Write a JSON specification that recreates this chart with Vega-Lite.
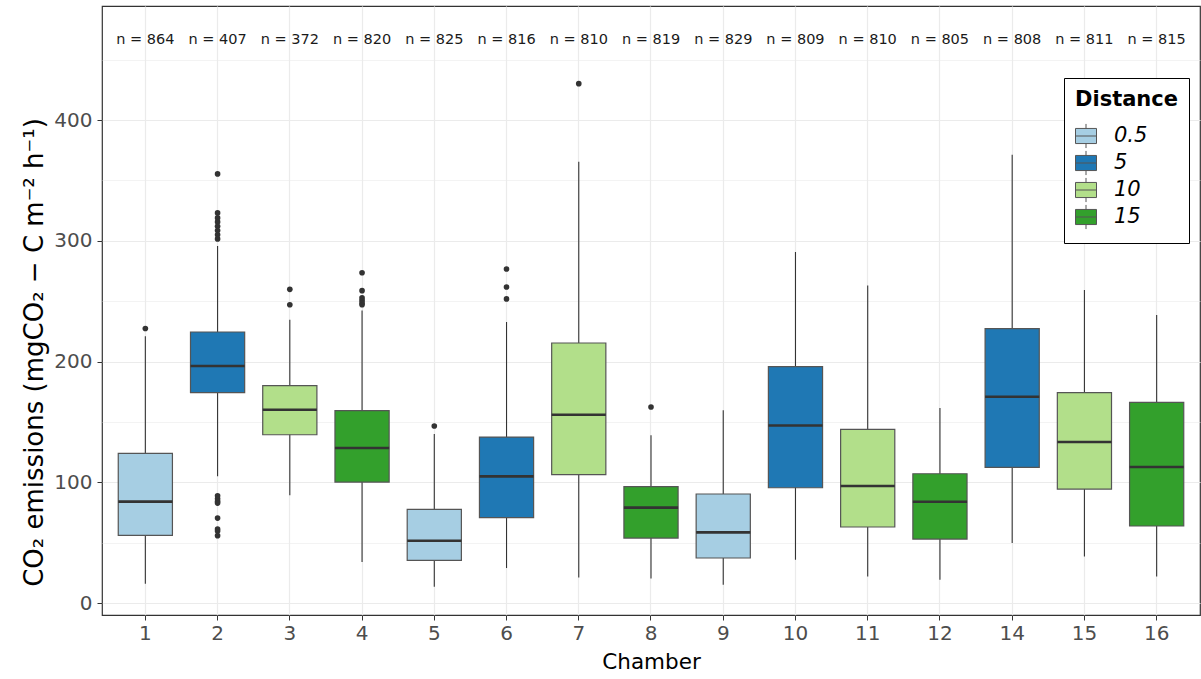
{
  "$schema": "https://vega.github.io/schema/vega-lite/v6.json",
  "width": 1098,
  "height": 609,
  "autosize": {"type": "none"},
  "padding": {"left": 102, "top": 6, "right": 1, "bottom": 64},
  "background": "white",
  "config": {
    "font": "DejaVu Sans",
    "view": {"stroke": "#333333", "strokeWidth": 1.2}
  },
  "datasets": {
    "boxes": [
      {"Chamber": "1", "Distance": "0.5", "lower": 16, "q1": 56, "median": 84, "q3": 124, "upper": 221, "label": "n = 864"},
      {"Chamber": "2", "Distance": "5", "lower": 105, "q1": 174.2, "median": 196.3, "q3": 224.5, "upper": 295.8, "label": "n = 407"},
      {"Chamber": "3", "Distance": "10", "lower": 89.2, "q1": 139.4, "median": 160.1, "q3": 180, "upper": 234.7, "label": "n = 372"},
      {"Chamber": "4", "Distance": "15", "lower": 34, "q1": 100.2, "median": 128.4, "q3": 159.3, "upper": 242.4, "label": "n = 820"},
      {"Chamber": "5", "Distance": "0.5", "lower": 13.5, "q1": 35.3, "median": 51.6, "q3": 77.6, "upper": 140, "label": "n = 825"},
      {"Chamber": "6", "Distance": "5", "lower": 29, "q1": 70.7, "median": 104.9, "q3": 137.5, "upper": 232.8, "label": "n = 816"},
      {"Chamber": "7", "Distance": "10", "lower": 21.2, "q1": 106.3, "median": 156, "q3": 215.4, "upper": 365.4, "label": "n = 810"},
      {"Chamber": "8", "Distance": "15", "lower": 20.4, "q1": 53.8, "median": 79, "q3": 96.4, "upper": 138.9, "label": "n = 819"},
      {"Chamber": "9", "Distance": "0.5", "lower": 15.2, "q1": 37.3, "median": 58.5, "q3": 90.3, "upper": 159.6, "label": "n = 829"},
      {"Chamber": "10", "Distance": "5", "lower": 35.9, "q1": 95.5, "median": 147.1, "q3": 195.8, "upper": 290.8, "label": "n = 809"},
      {"Chamber": "11", "Distance": "10", "lower": 22, "q1": 63, "median": 96.9, "q3": 143.8, "upper": 263.1, "label": "n = 810"},
      {"Chamber": "12", "Distance": "15", "lower": 19.3, "q1": 53, "median": 83.9, "q3": 107.1, "upper": 161.6, "label": "n = 805"},
      {"Chamber": "14", "Distance": "5", "lower": 49.7, "q1": 112.4, "median": 170.9, "q3": 227.3, "upper": 371.4, "label": "n = 808"},
      {"Chamber": "15", "Distance": "10", "lower": 38.6, "q1": 94.4, "median": 133.4, "q3": 174.2, "upper": 259.3, "label": "n = 811"},
      {"Chamber": "16", "Distance": "15", "lower": 22, "q1": 63.8, "median": 112.7, "q3": 166.2, "upper": 238.6, "label": "n = 815"}
    ],
    "outliers": [
      {"Chamber": "1", "value": 227.4},
      {"Chamber": "2", "value": 355.4},
      {"Chamber": "2", "value": 323.1},
      {"Chamber": "2", "value": 319},
      {"Chamber": "2", "value": 315.7},
      {"Chamber": "2", "value": 312},
      {"Chamber": "2", "value": 308.5},
      {"Chamber": "2", "value": 305},
      {"Chamber": "2", "value": 301.6},
      {"Chamber": "2", "value": 88.9},
      {"Chamber": "2", "value": 86.4},
      {"Chamber": "2", "value": 84.2},
      {"Chamber": "2", "value": 82.8},
      {"Chamber": "2", "value": 70.4},
      {"Chamber": "2", "value": 61.3},
      {"Chamber": "2", "value": 59.6},
      {"Chamber": "2", "value": 55.8},
      {"Chamber": "3", "value": 259.8},
      {"Chamber": "3", "value": 247.1},
      {"Chamber": "4", "value": 273.6},
      {"Chamber": "4", "value": 258.7},
      {"Chamber": "4", "value": 252.7},
      {"Chamber": "4", "value": 250.5},
      {"Chamber": "4", "value": 248.5},
      {"Chamber": "4", "value": 247.1},
      {"Chamber": "5", "value": 146.6},
      {"Chamber": "6", "value": 276.7},
      {"Chamber": "6", "value": 261.8},
      {"Chamber": "6", "value": 251.9},
      {"Chamber": "7", "value": 430.2},
      {"Chamber": "8", "value": 162.4}
    ]
  },
  "encoding": {
    "x": {
      "field": "Chamber",
      "type": "ordinal",
      "sort": ["1", "2", "3", "4", "5", "6", "7", "8", "9", "10", "11", "12", "14", "15", "16"],
      "scale": {"type": "band", "paddingInner": 0, "paddingOuter": 0.1},
      "axis": {
        "title": "Chamber",
        "labelAngle": 0,
        "labelFontSize": 20,
        "labelColor": "#4D4D4D",
        "labelPadding": 3,
        "tickColor": "#333333",
        "tickSize": 5,
        "domain": false,
        "grid": true,
        "gridColor": "#EBEBEB",
        "gridWidth": 1.2,
        "bandPosition": 0.5,
        "titleFontSize": 21.5,
        "titleFontWeight": "normal",
        "titleColor": "#000000",
        "titlePadding": 8
      }
    }
  },
  "layer": [
    {
      "data": {"name": "boxes"},
      "mark": {"type": "rule", "color": "#333333", "strokeWidth": 1.1},
      "encoding": {
        "y": {
          "field": "lower",
          "type": "quantitative",
          "scale": {"domain": [-9.9, 494.5], "nice": false, "zero": false},
          "axis": {
            "title": "CO₂ emissions (mgCO₂ − C m⁻² h⁻¹)",
            "values": [0, 50, 100, 150, 200, 250, 300, 350, 400, 450],
            "labelExpr": "datum.value % 100 == 0 ? datum.label : ''",
            "labelFontSize": 20,
            "labelColor": "#4D4D4D",
            "labelPadding": 5,
            "tickColor": "#333333",
            "tickSize": 5,
            "tickOpacity": {"condition": {"test": "datum.value % 100 != 0", "value": 0}, "value": 1},
            "domain": false,
            "grid": true,
            "gridColor": "#EBEBEB",
            "gridWidth": {"condition": {"test": "datum.value % 100 != 0", "value": 0.6}, "value": 1.2},
            "titleFontSize": 26,
            "titleFontWeight": "normal",
            "titleColor": "#000000",
            "titlePadding": 6,
            "titleY": 346,
            "titleAlign": "center"
          }
        },
        "y2": {"field": "upper"}
      }
    },
    {
      "data": {"name": "boxes"},
      "mark": {"type": "bar", "width": {"band": 0.75}, "stroke": "#555555", "strokeWidth": 1.2},
      "encoding": {
        "y": {"field": "q1", "type": "quantitative"},
        "y2": {"field": "q3"},
        "fill": {
          "field": "Distance",
          "type": "nominal",
          "scale": {"domain": ["0.5", "5", "10", "15"], "range": ["#A6CEE3", "#1F78B4", "#B2DF8A", "#33A02C"]},
          "legend": {
            "title": "Distance",
            "orient": "none",
            "legendX": 962,
            "legendY": 72,
            "titleFontSize": 21,
            "titleFontWeight": "bold",
            "titleColor": "#000000",
            "titlePadding": 15,
            "labelFontSize": 21,
            "labelFontStyle": "italic",
            "labelColor": "#000000",
            "labelOffset": 17,
            "symbolType": "M-1,-0.72H1V0.72H-1Z M-1,0H1 M0,-1.15V-0.72 M0,0.72V1.15",
            "symbolSize": 441,
            "symbolStrokeColor": "#555555",
            "symbolStrokeWidth": 1,
            "rowPadding": -3,
            "strokeColor": "#000000",
            "fillColor": "#FFFFFF",
            "padding": 11,
            "cornerRadius": 0
          }
        }
      }
    },
    {
      "data": {"name": "boxes"},
      "mark": {"type": "bar", "width": {"band": 0.75}, "fill": null, "stroke": "#333333", "strokeWidth": 2.6},
      "encoding": {
        "y": {"field": "median", "type": "quantitative"},
        "y2": {"field": "median"}
      }
    },
    {
      "data": {"name": "outliers"},
      "mark": {"type": "circle", "color": "#333333", "opacity": 1, "size": 32},
      "encoding": {
        "y": {"field": "value", "type": "quantitative"}
      }
    },
    {
      "data": {"name": "boxes"},
      "mark": {"type": "text", "fontSize": 14.5, "color": "#1A1A1A", "baseline": "middle"},
      "encoding": {
        "y": {"datum": 466},
        "text": {"field": "label"}
      }
    }
  ]
}
